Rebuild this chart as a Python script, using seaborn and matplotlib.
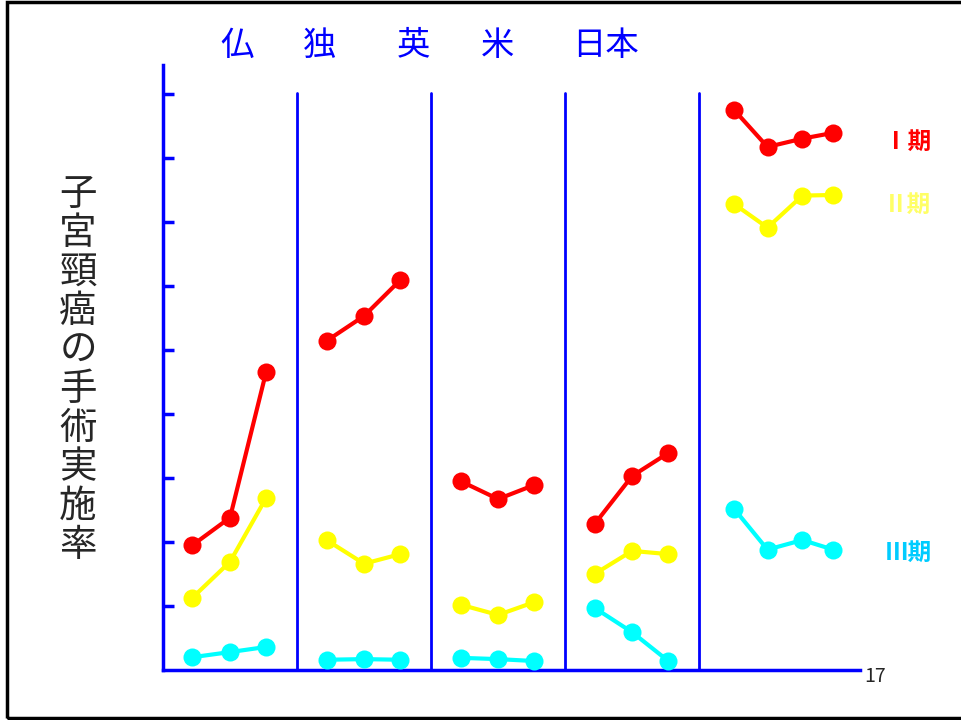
import pandas as pd
import matplotlib.pyplot as plt
import seaborn as sns
from matplotlib.patches import Rectangle

sns.set_style('white')
plt.rcParams['font.family'] = ['Noto Sans CJK JP', 'DejaVu Sans']

# chart values (one panel per country)
countries = ['仏', '独', '英', '米', '日本']
stages = ['Ⅰ期', 'Ⅱ期', 'Ⅲ期']
stage1 = [[1.95, 2.38, 4.66], [5.14, 5.53, 6.09], [2.95, 2.67, 2.89],
          [2.28, 3.03, 3.39], [8.75, 8.17, 8.30, 8.39]]
stage2 = [[1.13, 1.69, 2.69], [2.03, 1.66, 1.81], [1.02, 0.86, 1.06],
          [1.50, 1.86, 1.81], [7.28, 6.91, 7.41, 7.42]]
stage3 = [[0.20, 0.28, 0.36], [0.16, 0.17, 0.16], [0.19, 0.17, 0.14],
          [0.97, 0.59, 0.14], [2.52, 1.88, 2.03, 1.88]]
yticks = [1, 2, 3, 4, 5, 6, 7, 8, 9]

colors = {'Ⅰ期': '#FF0000', 'Ⅱ期': '#FFFF00', 'Ⅲ期': '#00FFFF'}
label_colors = {'Ⅰ期': '#FF0000', 'Ⅱ期': '#FFFF66', 'Ⅲ期': '#00CCFF'}
blue = '#0000FF'

rows = []
for stage, series in zip(stages, [stage1, stage2, stage3]):
    for i, (country, vals) in enumerate(zip(countries, series)):
        n = len(vals)
        if n == 3:
            offs = [0.22, 0.5, 0.77]
        else:
            offs = [0.26, 0.51, 0.77, 1.0]
        for off, v in zip(offs, vals):
            rows.append({'x': i + off, 'y': v, 'stage': stage, 'country': country})
df = pd.DataFrame(rows)

fig = plt.figure(figsize=(9.61, 7.2), dpi=100)
ax = fig.add_axes([163 / 961, 50 / 720, 697 / 961, 605 / 720])

sns.lineplot(data=df, x='x', y='y', hue='stage', units='country', estimator=None,
             palette=colors, marker='o', markersize=13, markeredgewidth=0,
             linewidth=3, legend=False, ax=ax, zorder=3)

ax.set_xlim(0, 5.2)
ax.set_ylim(0, 9.45)
ax.set_xlabel('')
ax.set_ylabel('')
ax.set_xticks([])
ax.set_yticks(yticks)
ax.set_yticklabels([])
ax.tick_params(axis='y', direction='in', length=8, width=2.5, color=blue, left=True)
for side in ['top', 'right']:
    ax.spines[side].set_visible(False)
for side in ['left', 'bottom']:
    ax.spines[side].set_color(blue)
    ax.spines[side].set_linewidth(2.5)

# panel dividers
for i in range(1, 5):
    ax.plot([i, i], [0, 9.02], color=blue, lw=2, zorder=2, clip_on=False)

# country headers
header_x = [237, 320, 413, 498, 606]
for name, px in zip(countries, header_x):
    fig.text(px / 961, 1 - 45 / 720, name, color=blue, fontsize=24,
             ha='center', va='center')

# stage labels on the right
for stage, py in zip(stages, [142, 205, 553]):
    fig.text(908 / 961, 1 - py / 720, stage, color=label_colors[stage], fontsize=17,
             fontweight='bold', ha='center', va='center')

# vertical y label
fig.text(78 / 961, 1 - 370 / 720, '\n'.join('子宮頸癌の手術実施率'), fontsize=27,
         ha='center', va='center', linespacing=1.0)

fig.text(875 / 961, 1 - 676 / 720, '17', fontsize=14, ha='center', va='center')

# slide frame
fig.patches.append(Rectangle((7 / 961, 2 / 720), 1.0, 716 / 720, transform=fig.transFigure,
                             fill=False, edgecolor='black', linewidth=2.5))

fig.savefig('out.png', dpi=100)
